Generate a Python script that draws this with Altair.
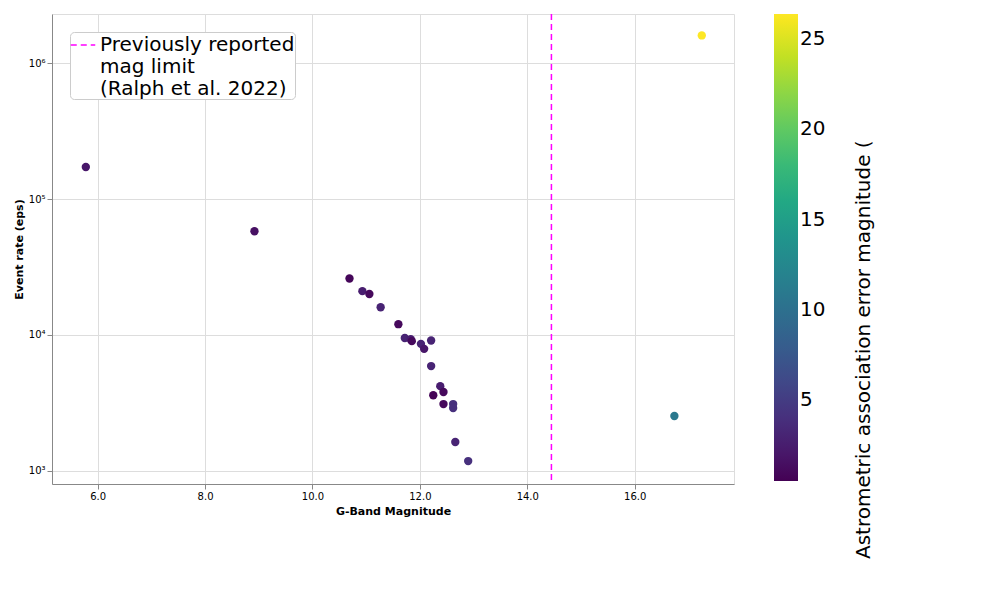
import altair as alt
import pandas as pd

mag = [5.78, 8.92, 10.69, 10.93, 11.06, 11.27, 11.60, 11.72, 11.83, 11.85, 12.02, 12.08, 12.21,
       12.21, 12.38, 12.44, 12.25, 12.44, 12.62, 12.62, 12.66, 12.90, 16.74, 17.25]
rate = [172000, 58000, 26000, 21000, 20000, 16000, 12000, 9500, 9300, 9000, 8600, 7900, 9100,
        5900, 4200, 3800, 3600, 3100, 3100, 2900, 1630, 1180, 2530, 1600000]
err = [2.0, 1.5, 0.8, 2.5, 1.0, 3.0, 1.0, 3.0, 2.5, 1.0, 3.0, 2.0, 3.0,
       3.0, 2.5, 1.0, 0.7, 1.0, 4.0, 4.0, 3.0, 4.0, 11.0, 26.4]
df = pd.DataFrame({"mag": mag, "rate": rate, "err": err})
lim = pd.DataFrame({"x": [14.45], "lab": ["Previously reported mag limit (Ralph et al. 2022)"]})
cbar_title = pd.DataFrame({"t": ["Astrometric association error magnitude ("]})

X = alt.X("mag:Q", title="G-Band Magnitude", scale=alt.Scale(domain=[5.15, 17.85], nice=False),
          axis=alt.Axis(values=[6, 8, 10, 12, 14, 16]))
pts = alt.Chart(df).mark_circle(size=70, opacity=1).encode(
    x=X,
    y=alt.Y("rate:Q", title="Event rate (eps)",
            scale=alt.Scale(type="log", domain=[800, 2300000], nice=False),
            axis=alt.Axis(values=[1000, 10000, 100000, 1000000],
                          labelExpr="datum.value==1000?'10³':datum.value==10000?'10⁴':datum.value==100000?'10⁵':'10⁶'")),
    color=alt.Color("err:Q", scale=alt.Scale(scheme="viridis", domain=[0.5, 26.4]),
                    legend=alt.Legend(title=None,
                                      orient="right", gradientLength=467, gradientThickness=24,
                                      labelFontSize=20, values=[5, 10, 15, 20, 25],
                                      offset=40)),
)
rule = alt.Chart(lim).mark_rule(strokeDash=[6, 4], strokeWidth=1.5).encode(
    x="x:Q",
    strokeDash=alt.StrokeDash("lab:N", scale=alt.Scale(range=[[6, 4]]),
                              legend=alt.Legend(title=None, orient="top-left", labelFontSize=20,
                                                symbolType="stroke", symbolStrokeColor="#ff00ff",
                                                symbolSize=600, symbolStrokeWidth=1.5,
                                                labelLimit=400, fillColor="white",
                                                strokeColor="#ccc", cornerRadius=4,
                                                labelExpr="['Previously reported','mag limit','(Ralph et al. 2022)']")),
    color=alt.value("#ff00ff"),
)
ttl = alt.Chart(cbar_title).mark_text(angle=270, fontSize=20, align="left", baseline="middle").encode(
    text="t:N", x=alt.value(812), y=alt.value(545))
chart = alt.layer(pts, rule, ttl).resolve_legend(color="independent").properties(
    width=682, height=470
).configure_axis(labelFontSize=20, titleFontSize=20, titleFontWeight="normal", gridColor="#b0b0b0",
                 domainColor="black", tickColor="black", labelColor="black", titleColor="black"
).configure_view(stroke="black").configure(font="DejaVu Sans")
chart.save("out.html", embed_options={"renderer": "svg", "actions": False})
